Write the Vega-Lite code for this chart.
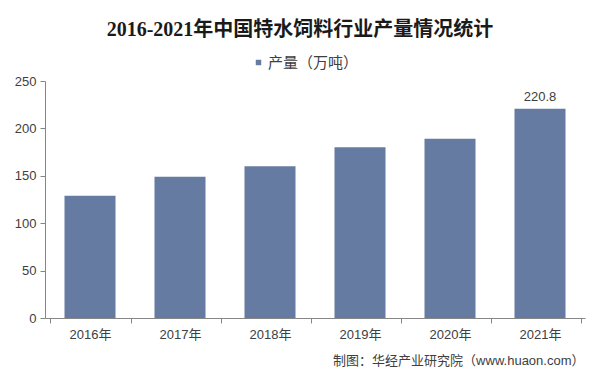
{
  "$schema": "https://vega.github.io/schema/vega-lite/v6.json",
  "autosize": "none",
  "width": 540,
  "height": 237,
  "padding": {"left": 45, "top": 81, "right": 15, "bottom": 63},
  "background": "white",
  "title": {
    "text": "2016-2021年中国特水饲料行业产量情况统计",
    "font": "Liberation Serif, Noto Sans CJK SC",
    "fontSize": 20,
    "fontWeight": "bold",
    "color": "#1a1a1a",
    "anchor": "middle",
    "dx": -15,
    "offset": 15
  },
  "data": {
    "values": [
      {"year": "2016年", "value": 129, "series": "产量（万吨）"},
      {"year": "2017年", "value": 149, "series": "产量（万吨）"},
      {"year": "2018年", "value": 160, "series": "产量（万吨）"},
      {"year": "2019年", "value": 180, "series": "产量（万吨）"},
      {"year": "2020年", "value": 189, "series": "产量（万吨）"},
      {"year": "2021年", "value": 220.8, "series": "产量（万吨）"}
    ]
  },
  "encoding": {
    "x": {
      "field": "year",
      "type": "ordinal",
      "sort": null,
      "axis": {
        "labelAngle": 0,
        "labelFont": "Liberation Sans, Noto Sans CJK SC",
        "labelFontSize": 13,
        "labelColor": "#404040",
        "labelPadding": 5,
        "tickBand": "extent",
        "tickSize": 5,
        "tickColor": "#868686",
        "domainColor": "#868686",
        "title": "制图：华经产业研究院（www.huaon.com）",
        "titleFont": "Liberation Sans, Noto Sans CJK SC",
        "titleFontSize": 13,
        "titleFontWeight": "normal",
        "titleColor": "#404040",
        "titleX": 539,
        "titleY": 42,
        "titleAlign": "right",
        "titleBaseline": "middle"
      }
    },
    "y": {
      "field": "value",
      "type": "quantitative",
      "scale": {"domain": [0, 250], "nice": false},
      "axis": {
        "values": [0, 50, 100, 150, 200, 250],
        "grid": false,
        "title": null,
        "labelFont": "Liberation Sans, Noto Sans CJK SC",
        "labelFontSize": 13,
        "labelColor": "#404040",
        "labelPadding": 4,
        "tickSize": 5,
        "tickColor": "#868686",
        "domainColor": "#868686"
      }
    }
  },
  "layer": [
    {
      "mark": {"type": "bar", "size": 51},
      "encoding": {
        "color": {
          "field": "series",
          "type": "nominal",
          "scale": {"range": ["#667ba2"]},
          "legend": {
            "orient": "none",
            "legendX": 206,
            "legendY": -26,
            "title": null,
            "symbolType": "square",
            "symbolSize": 30,
            "symbolStrokeWidth": 0,
            "labelFont": "Liberation Sans, Noto Sans CJK SC",
            "labelFontSize": 15,
            "labelColor": "#404040",
            "labelOffset": 2
          }
        }
      }
    },
    {
      "transform": [{"filter": "datum.year == '2021年'"}],
      "mark": {
        "type": "text",
        "baseline": "bottom",
        "dy": -5,
        "font": "Liberation Sans, Noto Sans CJK SC",
        "fontSize": 13,
        "color": "#404040"
      },
      "encoding": {
        "text": {"field": "value", "type": "quantitative", "format": ".1f"}
      }
    }
  ],
  "config": {
    "view": {"stroke": null}
  }
}
